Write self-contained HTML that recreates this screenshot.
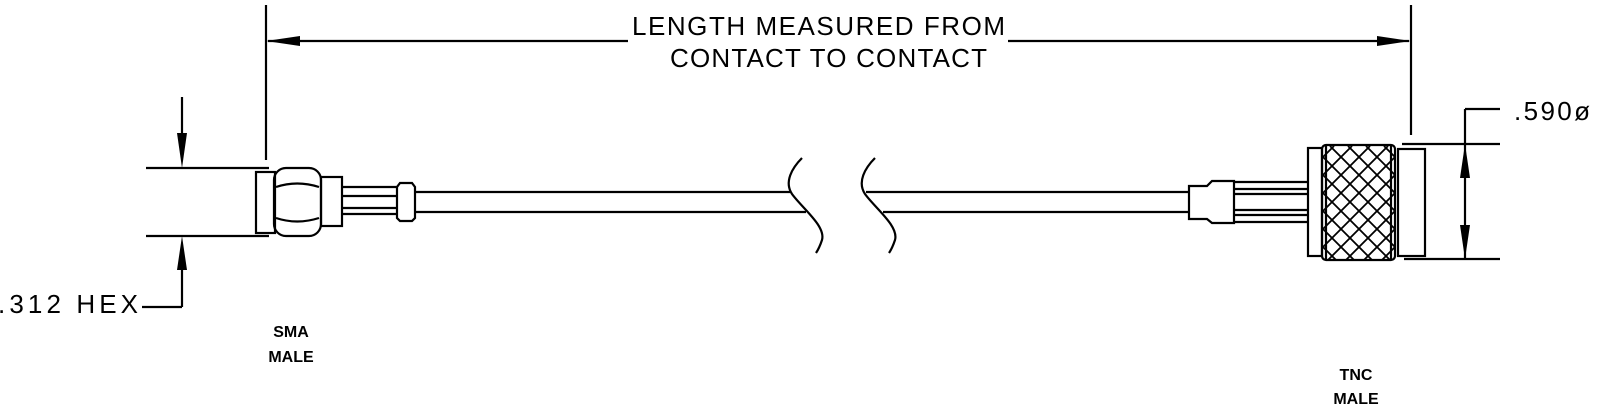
<!DOCTYPE html>
<html><head><style>
html,body{margin:0;padding:0;background:#fff;}
svg{display:block}
text{font-family:"Liberation Sans",sans-serif;}
</style></head><body>
<svg width="1600" height="419" viewBox="0 0 1600 419" xmlns="http://www.w3.org/2000/svg">
<defs>
<clipPath id="kn"><rect x="1323" y="146" width="72" height="114" rx="3"/></clipPath>
</defs>
<g stroke="#000" stroke-width="2.2" fill="none">
<line x1="266" y1="5" x2="266" y2="160"/>
<line x1="1411" y1="5" x2="1411" y2="135"/>
<line x1="268" y1="41" x2="628" y2="41"/>
<line x1="1008" y1="41" x2="1409" y2="41"/>
<line x1="146" y1="168" x2="269" y2="168"/>
<line x1="146" y1="236" x2="269" y2="236"/>
<line x1="182" y1="97" x2="182" y2="140"/>
<line x1="182" y1="268" x2="182" y2="307"/>
<line x1="182" y1="307" x2="142" y2="307"/>
<rect x="256" y="172" width="19" height="61"/>
<rect x="274" y="168" width="47" height="68" rx="12"/>
<path d="M276 187 Q297 180 319 187 M276 218 Q297 225 319 218"/>
<rect x="321" y="177" width="21" height="49"/>
<line x1="342" y1="187" x2="397" y2="187"/>
<line x1="342" y1="196" x2="397" y2="196"/>
<line x1="342" y1="208" x2="397" y2="208"/>
<line x1="342" y1="214" x2="397" y2="214"/>
<path d="M400 183 L412 183 L415 187 L415 218 L412 221 L400 221 L397 218 L397 187 Z"/>
<line x1="415" y1="192" x2="790" y2="192"/>
<line x1="415" y1="212" x2="806" y2="212"/>
<path d="M802 158 C792 168 784 182 792 194 C802 208 826 226 822 240 C820 246 818 250 816 253"/>
<path d="M875 158 C865 168 857 182 865 194 C875 208 899 226 895 240 C893 246 891 250 889 253"/>
<line x1="866" y1="192" x2="1189" y2="192"/>
<line x1="883" y1="212" x2="1189" y2="212"/>
<path d="M1189 186 L1207 186 L1212 181 L1234 181 L1234 223 L1212 223 L1207 219 L1189 219 Z"/>
<line x1="1234" y1="182" x2="1308" y2="182"/>
<line x1="1234" y1="189" x2="1308" y2="189"/>
<line x1="1234" y1="194" x2="1308" y2="194"/>
<line x1="1234" y1="210" x2="1308" y2="210"/>
<line x1="1234" y1="215" x2="1308" y2="215"/>
<line x1="1234" y1="222" x2="1308" y2="222"/>
<rect x="1308" y="148" width="14" height="108"/>
<g clip-path="url(#kn)" stroke-width="1.8">
<path d="M1240 146 l140 140 M1258 146 l140 140 M1276 146 l140 140 M1294 146 l140 140 M1312 146 l140 140 M1330 146 l140 140 M1348 146 l140 140 M1366 146 l140 140 M1384 146 l140 140 M1222 146 l140 140 M1204 146 l140 140 M1186 146 l140 140"/>
<path d="M1478 146 l-140 140 M1460 146 l-140 140 M1442 146 l-140 140 M1424 146 l-140 140 M1406 146 l-140 140 M1388 146 l-140 140 M1370 146 l-140 140 M1352 146 l-140 140 M1334 146 l-140 140 M1496 146 l-140 140 M1514 146 l-140 140 M1532 146 l-140 140"/>
</g>
<rect x="1322" y="145" width="73" height="115" rx="4"/>
<line x1="1326" y1="146" x2="1326" y2="259"/>
<line x1="1391" y1="146" x2="1391" y2="259"/>
<rect x="1398" y="149" width="27" height="107"/>
<line x1="1402" y1="144" x2="1500" y2="144"/>
<line x1="1404" y1="259" x2="1500" y2="259"/>
<line x1="1465" y1="109" x2="1465" y2="259"/>
<line x1="1465" y1="109" x2="1500" y2="109"/>
</g>
<g fill="#000">
<polygon points="266,41 300,36 300,46"/>
<polygon points="1411,41 1377,36 1377,46"/>
<polygon points="182,168 177,133 187,133"/>
<polygon points="182,236 177,270 187,270"/>
<polygon points="1465,144 1460,178 1470,178"/>
<polygon points="1465,259 1460,225 1470,225"/>
</g>
<g font-size="26" fill="#000">
<text x="632" y="35" textLength="373" lengthAdjust="spacing">LENGTH MEASURED FROM</text>
<text x="670" y="67" textLength="317" lengthAdjust="spacing">CONTACT TO CONTACT</text>
<text x="-2" y="313" textLength="140" lengthAdjust="spacing">.312 HEX</text>
<text x="1514" y="120" textLength="76" lengthAdjust="spacing">.590ø</text>
</g>
<g font-size="16" font-weight="bold" fill="#000" text-anchor="middle">
<text x="291" y="337">SMA</text>
<text x="291" y="362">MALE</text>
<text x="1356" y="380">TNC</text>
<text x="1356" y="404">MALE</text>
</g>
</svg>
</body></html>
